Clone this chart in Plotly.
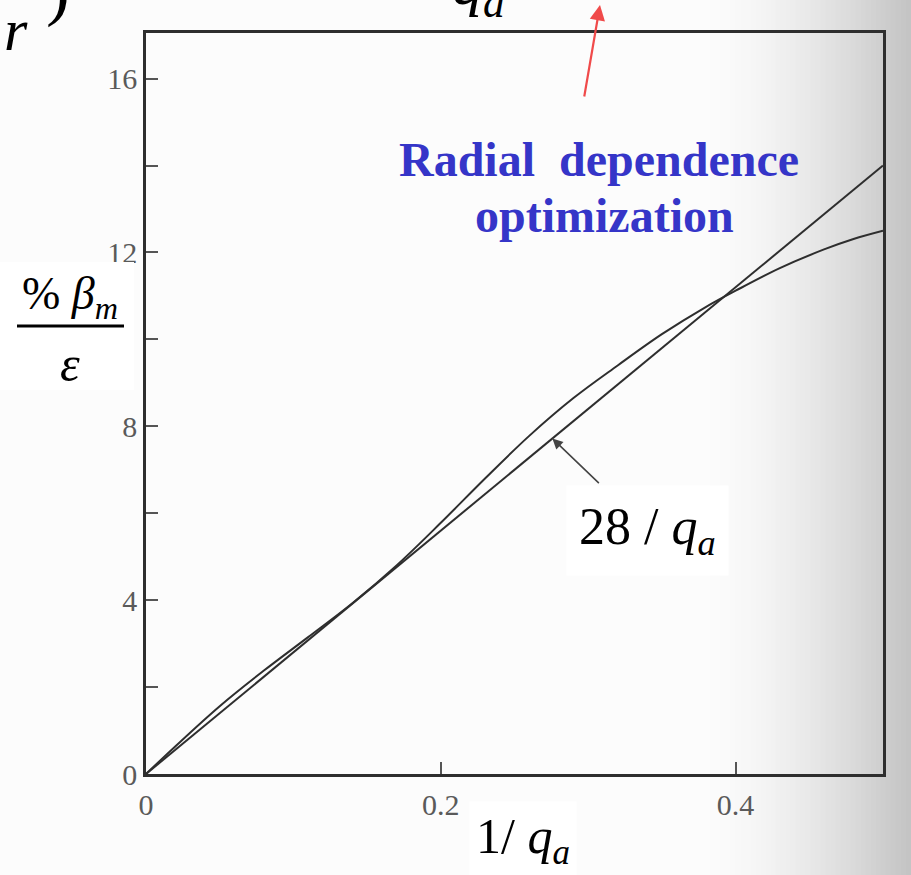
import plotly.graph_objects as go

# Data: normalised beta limit versus inverse edge safety factor
inv_qa = [0, 0.02, 0.05, 0.08, 0.11, 0.14, 0.17, 0.20, 0.23, 0.26, 0.29,
          0.32, 0.35, 0.38, 0.40, 0.43, 0.46, 0.48, 0.50]
beta_opt = [0, 0.64, 1.56, 2.38, 3.15, 3.93, 4.80, 5.78, 6.80, 7.78, 8.65,
            9.40, 10.12, 10.75, 11.12, 11.64, 12.07, 12.31, 12.50]

troyon_coef = 28
line_x = [0, 0.50]
line_y = [troyon_coef * v for v in line_x]

y_ticks = [0, 4, 8, 12, 16]
y_minor = [2, 6, 10, 14]
x_ticks = [0, 0.2, 0.4]

W, H = 911, 875
L, R, T, B = 146, 28, 33, 101
PW, PH = W - L - R, H - T - B


def fx(px):
    return (px - L) / PW


def fy(py):
    return (H - B - py) / PH


SERIF = "Liberation Serif, Times New Roman, serif"
INK = "#2e2e2e"

fig = go.Figure()

fig.add_trace(go.Scatter(x=line_x, y=line_y, mode="lines",
                         line=dict(color=INK, width=2), showlegend=False))
fig.add_trace(go.Scatter(x=inv_qa, y=beta_opt, mode="lines",
                         line=dict(color=INK, width=2, shape="spline", smoothing=1.0),
                         showlegend=False))

# paper tone: darker towards the right edge
shapes = []
n = 44
x0 = 690
for i in range(n):
    a = x0 + (W - x0) * i / n
    b = x0 + (W - x0) * (i + 1) / n
    t = (i + 0.5) / n
    g = int(253 - 58 * t ** 1.7)
    shapes.append(dict(type="rect", xref="paper", yref="paper",
                       x0=fx(a), x1=fx(b + 0.5), y0=fy(H), y1=fy(0),
                       fillcolor=f"rgb({g},{g},{g})", line=dict(width=0),
                       layer="below"))

# white patch behind the y-axis title, and its fraction bar
shapes.append(dict(type="rect", xref="paper", yref="paper",
                   x0=fx(0), x1=fx(134), y0=fy(390), y1=fy(262),
                   fillcolor="white", line=dict(width=0), layer="above"))
shapes.append(dict(type="line", xref="paper", yref="paper",
                   x0=fx(17), x1=fx(124), y0=fy(326), y1=fy(326),
                   line=dict(color="black", width=3), layer="above"))

annotations = []


def label(px, py, text, size, color="black", **kw):
    d = dict(xref="paper", yref="paper", x=fx(px), y=fy(py), text=text,
             xanchor="center", yanchor="middle", showarrow=False,
             font=dict(family=SERIF, size=size, color=color))
    d.update(kw)
    annotations.append(d)


# y-axis title
label(70, 297, "% <i>β</i><sub><i>m</i></sub>", 46)
label(70, 364, "<i>ε</i>", 50)

# x-axis title
label(523, 840, "1/ <i>q</i><sub><i>a</i></sub>", 50, bgcolor="white", borderpad=6)

# pointer to the 28/q_a line
tip_x = 0.2757
annotations.append(dict(x=tip_x, y=troyon_coef * tip_x, xref="x", yref="y",
                        ax=48, ay=46, text="", showarrow=True,
                        arrowhead=2, arrowsize=1.3, arrowwidth=1.6,
                        arrowcolor="#444"))
label(647, 530, "28 / <i>q</i><sub><i>a</i></sub>", 52, bgcolor="white", borderpad=12)

# red arrow towards the formula above
annotations.append(dict(xref="paper", yref="paper", x=fx(600), y=fy(5),
                        ax=-16, ay=93, text="", showarrow=True,
                        arrowhead=2, arrowsize=1.4, arrowwidth=2.2,
                        arrowcolor="#f04a4a"))

label(599, 160, "<b>Radial  dependence</b>", 48, color="#3535c8")
label(604, 215, "<b>optimization</b>", 48, color="#3535c8")

# pieces of the formula above the frame
label(16, 30, "<i>r</i>", 60)
label(58, -12, ")", 72)
label(478, -12, "<i>q</i><sub><i>a</i></sub>", 62)

fig.update_layout(
    width=W, height=H,
    margin=dict(l=L, r=R, t=T, b=B, autoexpand=False),
    paper_bgcolor="#fcfcfc", plot_bgcolor="rgba(0,0,0,0)",
    shapes=shapes, annotations=annotations,
    showlegend=False,
)
fig.update_xaxes(range=[0, 0.5], tickvals=x_ticks,
                 ticktext=[f"{v:g}" for v in x_ticks],
                 ticks="inside", ticklen=12, tickwidth=1.5, tickcolor="#555",
                 showline=True, mirror=True, linecolor=INK, linewidth=2.5,
                 showgrid=False, zeroline=False, ticklabelstandoff=2,
                 tickfont=dict(family=SERIF, size=30, color="#5a5a5a"))
fig.update_yaxes(range=[0, 17.05], tickvals=y_ticks,
                 ticks="inside", ticklen=12, tickwidth=1.5, tickcolor="#555",
                 minor=dict(tickvals=y_minor, ticks="inside",
                            ticklen=12, tickwidth=1.5, tickcolor="#555"),
                 showline=True, mirror=True, linecolor=INK, linewidth=2.5,
                 showgrid=False, zeroline=False, ticklabelstandoff=0,
                 tickfont=dict(family=SERIF, size=30, color="#5a5a5a"))

fig.write_html("out.html")
